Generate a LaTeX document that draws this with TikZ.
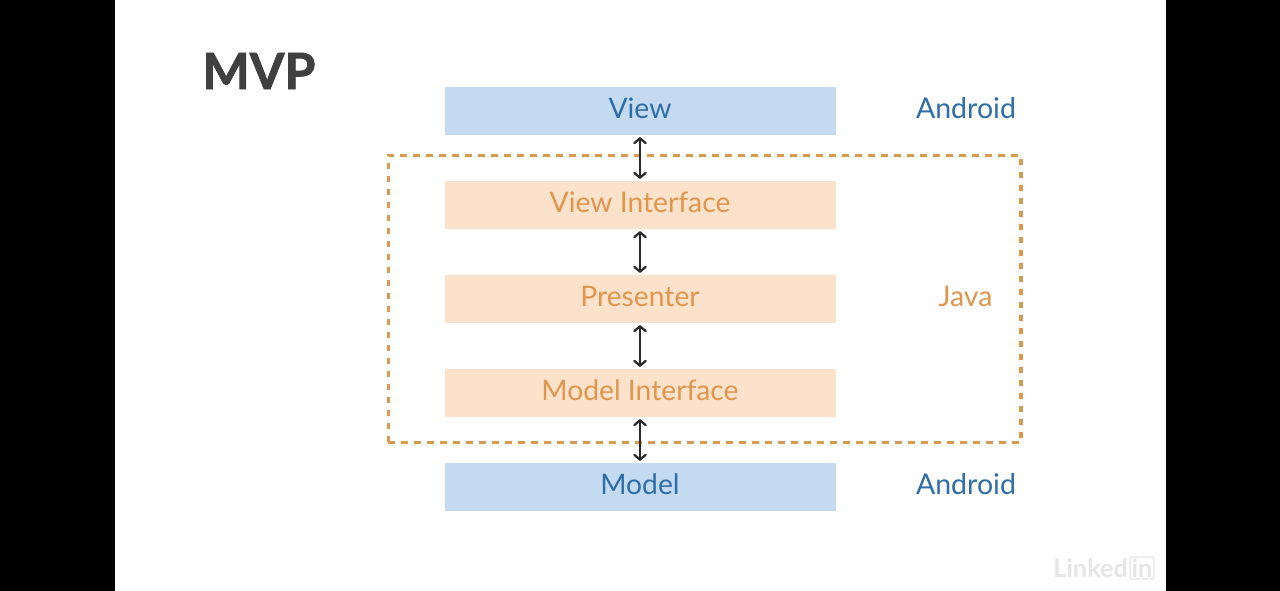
\documentclass[tikz,border=0pt]{standalone}
\usepackage{fontspec}
\setmainfont{Lato}
\newfontfamily\titlefont[FakeBold=1.6]{Lato Bold}
\usetikzlibrary{arrows.meta}
\definecolor{bluefill}{HTML}{C3DAF0}
\definecolor{orangefill}{HTML}{FCE2CA}
\definecolor{bluetext}{HTML}{2F6DA8}
\definecolor{orangetext}{HTML}{E0964F}
\definecolor{dashcol}{HTML}{D9994F}
\definecolor{titlecol}{HTML}{404040}
\definecolor{arrowcol}{HTML}{2B2B2B}
\definecolor{markcol}{HTML}{E6E6E6}
\tikzset{
  px/.style={x=0.75pt,y=-0.75pt},
  layerbox/.style={minimum width=293.25pt,minimum height=36.3pt,inner sep=0pt,outer sep=0pt,text height=14.8pt,text depth=3.5pt,font=\fontsize{21.2}{24}\selectfont},
  bluebox/.style={layerbox,fill=bluefill,text=bluetext},
  orangebox/.style={layerbox,fill=orangefill,text=orangetext},
  sidelabel/.style={inner sep=0pt,font=\fontsize{21.4}{24}\selectfont},
  biarrow/.style={{Straight Barb[length=3.6pt,width=8.5pt,round]}-{Straight Barb[length=3.6pt,width=8.5pt,round]},draw=arrowcol,line width=1.7pt,shorten >=1.5pt,shorten <=1.5pt},
}
\begin{document}
\begin{tikzpicture}[px]
\useasboundingbox (0,0) rectangle (1280,591);
\fill[black] (0,0) rectangle (114.5,591);
\fill[black] (1166,0) rectangle (1280,591);
\fill[white] (114.5,0) rectangle (1166,591);
\node[inner sep=0pt,text=titlecol,font=\fontsize{37.5}{40}\titlefont] (title) at (259,71) {MVP};
\node[bluebox] (view) at (640,111) {View};
\node[orangebox] (vi) at (640,205) {View Interface};
\node[orangebox] (pres) at (640,299) {Presenter};
\node[orangebox] (mi) at (640,393) {Model Interface};
\node[bluebox] (model) at (640,487) {Model};
\node[draw=dashcol,line width=2.5pt,dash pattern=on 5pt off 4.75pt,minimum width=474.5pt,minimum height=215.5pt,inner sep=0pt] (javabox) at (704.5,299) {};
\draw[biarrow] (view) -- (vi);
\draw[biarrow] (vi) -- (pres);
\draw[biarrow] (pres) -- (mi);
\draw[biarrow] (mi) -- (model);
\node[sidelabel,text=bluetext] (a1) at (966,108) {Android};
\node[sidelabel,text=orangetext] (java) at (965.5,296.5) {Java};
\node[sidelabel,text=bluetext] (a2) at (966,484) {Android};
\node[inner sep=0pt,text=markcol,font=\fontsize{19}{20}\selectfont\bfseries] (li) at (1104,568) {Linked\kern1pt\tikz[baseline=(x.base)]\node[draw=markcol,line width=1pt,rounded corners=1.5pt,inner sep=1.2pt] (x) {in};};
\end{tikzpicture}
\end{document}
